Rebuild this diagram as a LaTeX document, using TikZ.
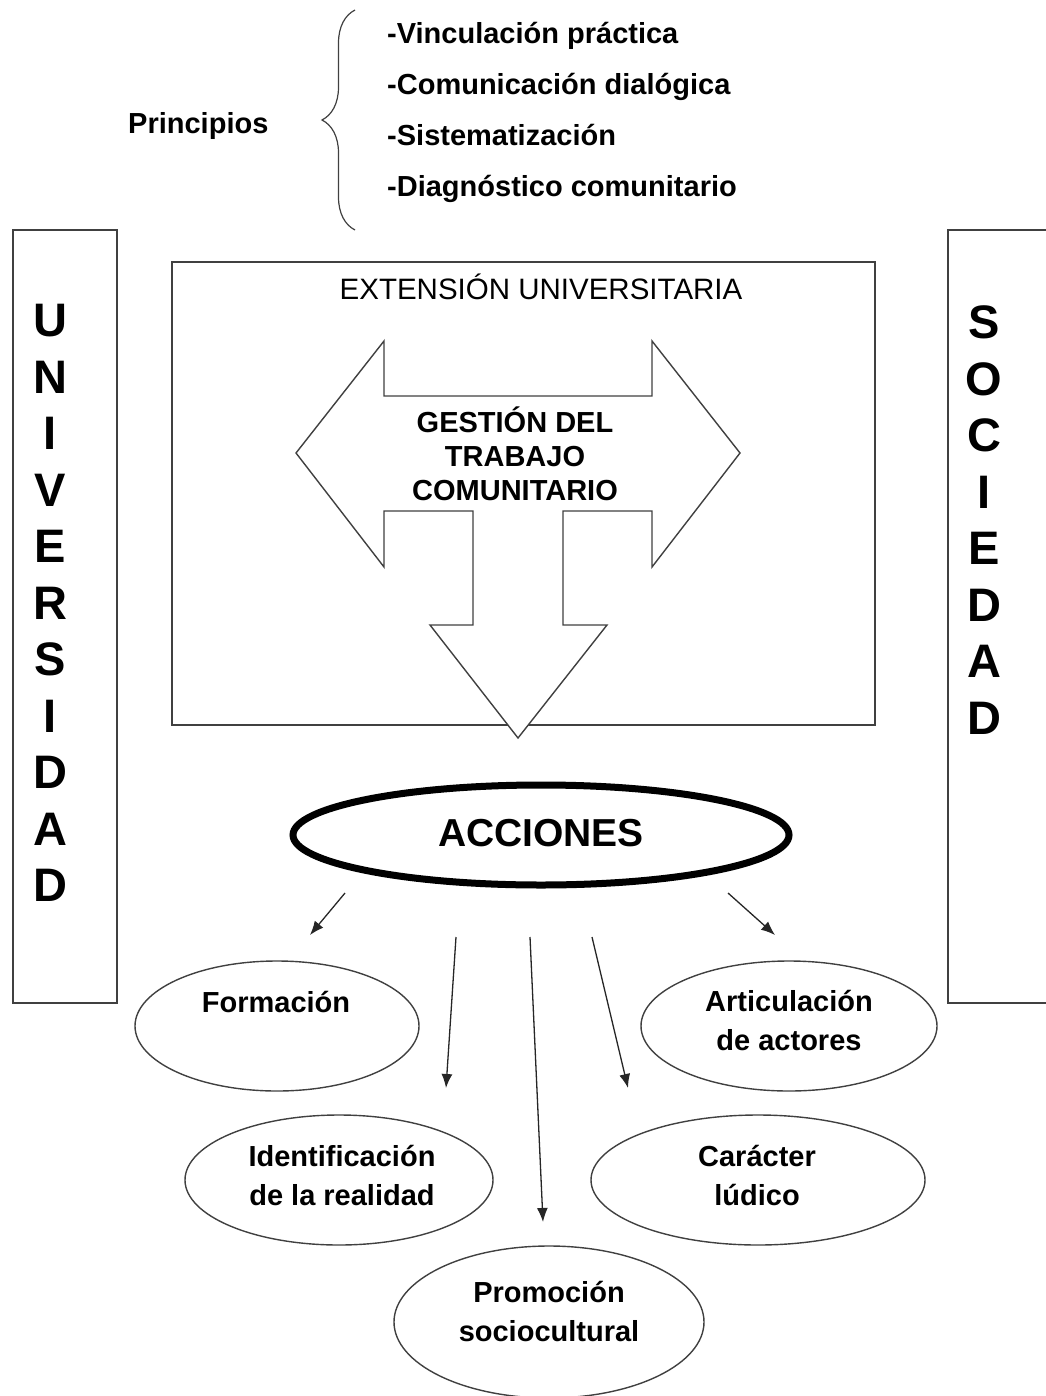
\documentclass[tikz,border=0pt]{standalone}
\usepackage{fontspec}
\setmainfont{Liberation Sans}
\usepackage{tikz}
\usetikzlibrary{positioning,shapes.geometric,arrows.meta,decorations.pathreplacing}

\begin{document}
\begin{tikzpicture}[x=1pt,y=-1pt,
            thinline/.style={draw=black!75, line width=1.4pt},
            box/.style={thinline, rectangle, inner sep=0pt},
            oval/.style={thinline, ellipse, inner sep=0pt},
            ovaltext/.style={font=\fontsize{29}{39}\selectfont\bfseries, align=center, inner sep=0pt},
            item/.style={font=\fontsize{29}{34}\selectfont\bfseries, anchor=base west, inner sep=0pt},
            vertword/.style={font=\fontsize{47}{56.5}\selectfont\bfseries, align=center, inner sep=0pt},
            lead/.style={draw=black!85, line width=1.3pt, -{Latex[length=14pt,width=11pt]}}]
            \useasboundingbox (0,0) rectangle (1045,1396);

            \node[item] (princ) at (128,134) {Principios};
            \coordinate (brtop) at (355,10);
            \coordinate (brbot) at (355,230);
            \draw[thinline, line width=1.2pt, decorate, decoration={brace, amplitude=33pt}] (brbot) -- (brtop);
            \node[item] (p1) at (387,44) {-Vinculación práctica};
            \node[item] (p2) at (387,95) {-Comunicación dialógica};
            \node[item] (p3) at (387,146) {-Sistematización};
            \node[item] (p4) at (387,197) {-Diagnóstico comunitario};

            \node[box, minimum width=104, minimum height=773] (univbox) at (65,616.5) {};
            \node[vertword] (univ) at (50,603) {U\\N\\I\\V\\E\\R\\S\\I\\D\\A\\D};
            \node[box, minimum width=112, minimum height=773] (socbox) at (1004,616.5) {};
            \node[vertword] (soc) at (984,520) {S\\O\\C\\I\\E\\D\\A\\D};

            \node[box, minimum width=703, minimum height=463] (ext) at (523.5,493.5) {};
            \node[font=\fontsize{29.5}{34}\selectfont, anchor=base, inner sep=0pt] (extlabel) at (541,299) {EXTENSIÓN UNIVERSITARIA};

            \draw[thinline, fill=white] (296,453) -- (384,341) -- (384,396) -- (652,396) -- (652,341)
                -- (740,453) -- (652,567) -- (652,511) -- (563,511) -- (563,625) -- (607,625)
                -- (518,738) -- (430,625) -- (473,625) -- (473,511) -- (384,511) -- (384,567) -- cycle;
            \node[font=\fontsize{29}{34}\selectfont\bfseries, align=center, inner sep=0pt] (gest) at (515,454)
                {GESTIÓN DEL\\TRABAJO\\COMUNITARIO};

            \node[ellipse, draw=black, line width=7pt, minimum width=496, minimum height=100] (acc) at (541,835) {};
            \node[font=\fontsize{39}{44}\selectfont\bfseries, inner sep=0pt] (acclabel) at (541,833) {ACCIONES};

            \node[oval, minimum width=284, minimum height=130] (form) at (277,1026) {};
            \node[ovaltext] (formlabel) at (276,1002) {Formación};
            \node[oval, minimum width=296, minimum height=130] (artic) at (789,1026) {};
            \node[ovaltext] (articlabel) at (789,1020) {Articulación\\de actores};
            \node[oval, minimum width=308, minimum height=130] (ident) at (339,1180) {};
            \node[ovaltext] (identlabel) at (342,1175) {Identificación\\de la realidad};
            \node[oval, minimum width=334, minimum height=130] (carac) at (758,1180) {};
            \node[ovaltext] (caraclabel) at (757,1175) {Carácter\\lúdico};
            \node[oval, minimum width=310, minimum height=152] (promo) at (549,1322) {};
            \node[ovaltext] (promolabel) at (549,1311) {Promoción\\sociocultural};

            \coordinate (a1s) at (345,893);  \coordinate (a1e) at (310,935);
            \coordinate (a2s) at (456,937);  \coordinate (a2e) at (446,1088);
            \coordinate (a3s) at (530,937);  \coordinate (a3e) at (543,1222);
            \coordinate (a4s) at (592,937);  \coordinate (a4e) at (628,1088);
            \coordinate (a5s) at (728,893);  \coordinate (a5e) at (775,935);
            \draw[lead] (a1s) -- (a1e);
            \draw[lead] (a2s) -- (a2e);
            \draw[lead] (a3s) -- (a3e);
            \draw[lead] (a4s) -- (a4e);
            \draw[lead] (a5s) -- (a5e);
        \end{tikzpicture}
\end{document}
